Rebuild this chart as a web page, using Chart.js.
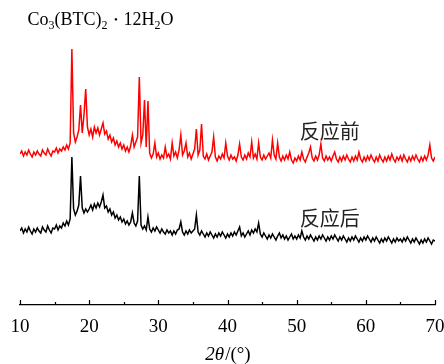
<!DOCTYPE html>
<html>
<head>
<meta charset="utf-8">
<script src="https://cdn.jsdelivr.net/npm/chart.js@4.4.1/dist/chart.umd.min.js"></script>
<style>
  html, body { margin: 0; padding: 0; background: #fff; }
  #wrap { width: 444px; height: 364px; position: relative; }
</style>
</head>
<body>
<div id="wrap"><canvas id="xrdChart"></canvas></div>
<script>
// 2θ sampling of both patterns (degrees)
const angleStart = 10;
const angleStep = 0.25;

// 反应前 (before reaction), intensity in arbitrary units
const beforeValues = [
    151, 154, 149, 153, 150, 155, 151, 148, 153, 150, 154, 151, 149, 155, 152, 150, 156, 152, 149, 154,
    153, 157, 152, 156, 154, 158, 155, 160, 156, 162, 256, 172, 163, 168, 175, 200, 172, 190, 216, 178,
    170, 176, 168, 178, 172, 177, 170, 176, 182, 171, 174, 166, 170, 163, 167, 160, 164, 158, 162, 156,
    160, 154, 158, 153, 159, 170, 158, 163, 168, 228, 162, 170, 205, 158, 204, 152, 147, 151, 162, 148,
    152, 146, 150, 147, 158, 148, 151, 146, 162, 149, 153, 147, 155, 170, 150, 154, 162, 148, 152, 146,
    151, 156, 176, 150, 155, 181, 149, 146, 151, 145, 149, 153, 168, 148, 144, 149, 146, 151, 147, 162,
    149, 145, 150, 146, 148, 144, 150, 161, 148, 145, 150, 146, 152, 148, 163, 147, 151, 146, 162, 148,
    145, 150, 146, 149, 152, 147, 165, 150, 146, 162, 148, 144, 149, 145, 150, 146, 153, 145, 142, 147,
    144, 149, 145, 153, 146, 143, 148, 152, 158, 147, 144, 149, 145, 150, 161, 147, 144, 149, 145, 148,
    144, 149, 153, 146, 143, 148, 144, 149, 145, 150, 146, 143, 148, 144, 149, 145, 153, 146, 143, 148,
    144, 149, 145, 150, 146, 143, 148, 144, 150, 146, 143, 148, 144, 149, 145, 151, 146, 143, 148, 145,
    149, 144, 150, 146, 143, 148, 144, 149, 145, 150, 146, 143, 148, 144, 149, 145, 150, 160, 147, 144, 148
];

// 反应后 (after reaction)
const afterValues = [
    74, 77, 72, 76, 73, 78, 74, 71, 76, 73, 77, 74, 72, 78, 75, 73, 79, 75, 72, 77,
    76, 80, 75, 79, 77, 82, 79, 84, 80, 86, 148, 96, 90, 94, 100, 129, 97, 92, 96, 93,
    96, 100, 95, 101, 97, 102, 98, 103, 110, 97, 99, 93, 96, 90, 93, 87, 90, 85, 88, 83,
    86, 81, 84, 80, 83, 92, 82, 79, 84, 129, 80, 76, 79, 75, 88, 76, 73, 77, 74, 78,
    75, 72, 76, 73, 71, 75, 72, 74, 70, 74, 71, 75, 76, 83, 73, 70, 74, 71, 75, 72,
    74, 76, 90, 73, 70, 74, 71, 68, 72, 69, 73, 70, 67, 71, 68, 72, 69, 73, 70, 67,
    71, 68, 72, 69, 73, 70, 74, 78, 69, 72, 68, 71, 74, 70, 75, 72, 76, 73, 82, 71,
    68, 72, 69, 66, 70, 67, 71, 68, 65, 69, 72, 67, 70, 66, 69, 65, 68, 71, 66, 69,
    66, 70, 67, 74, 68, 65, 69, 66, 70, 67, 64, 68, 65, 69, 66, 70, 67, 64, 68, 65,
    69, 66, 70, 67, 64, 68, 65, 69, 66, 63, 67, 64, 68, 65, 69, 66, 63, 67, 64, 68,
    65, 69, 66, 63, 67, 64, 68, 65, 62, 66, 63, 67, 64, 68, 65, 62, 66, 63, 67, 64,
    66, 63, 67, 64, 68, 65, 62, 66, 63, 67, 64, 61, 65, 62, 66, 63, 67, 64, 61, 65, 64
];

const seriesNames = ['反应前', '反应后'];
const majorTicks = [10, 20, 30, 40, 50, 60, 70];
const minorTicks = [15, 25, 35, 45, 55, 65];

const toPoints = vals => vals.map((v, i) => ({ x: angleStart + i * angleStep, y: v }));

const serif = "'Liberation Serif', 'Times New Roman', serif";

// draws inward ticks, the formula title, series names and the axis title
const overlay = {
    id: 'overlay',
    afterDraw(chart) {
        const ctx = chart.ctx;
        const xs = chart.scales.x;
        const ys = chart.scales.y;
        const base = Math.round(chart.chartArea.bottom);
        ctx.save();

        ctx.strokeStyle = '#000';
        ctx.lineWidth = 1.2;
        ctx.beginPath();
        majorTicks.forEach(v => {
            const p = Math.round(xs.getPixelForValue(v)) + 0.5;
            ctx.moveTo(p, base); ctx.lineTo(p, base - 5);
        });
        minorTicks.forEach(v => {
            const p = Math.round(xs.getPixelForValue(v)) + 0.5;
            ctx.moveTo(p, base); ctx.lineTo(p, base - 3);
        });
        ctx.stroke();

        // Co3(BTC)2 · 12H2O
        ctx.fillStyle = '#000';
        ctx.textBaseline = 'alphabetic';
        ctx.textAlign = 'left';
        const parts = [['Co', 0], ['3', 1], ['(BTC)', 0], ['2', 1], ['dot', 2], ['12H', 0], ['2', 1], ['O', 0]];
        let cx = 27.5;
        const by = 24.5;
        parts.forEach(([t, kind]) => {
            if (kind === 2) {
                ctx.font = '11px ' + serif;
                ctx.textBaseline = 'middle';
                ctx.textAlign = 'center';
                ctx.fillText('\u2022', cx + 8.5, by - 4.5);
                ctx.textBaseline = 'alphabetic';
                ctx.textAlign = 'left';
                cx += 16;
                return;
            }
            ctx.font = (kind ? '12px ' : '18px ') + serif;
            ctx.fillText(t, cx, kind ? by + 4 : by);
            cx += ctx.measureText(t).width;
        });

        // series names
        ctx.font = "20px 'Noto Sans CJK SC', sans-serif";
        ctx.fillStyle = '#222';
        ctx.textAlign = 'center';
        ctx.textBaseline = 'middle';
        ctx.fillText(seriesNames[0], xs.getPixelForValue(54.8), ys.getPixelForValue(174));
        ctx.fillText(seriesNames[1], xs.getPixelForValue(54.8), ys.getPixelForValue(87));

        // 2θ/(°)
        ctx.fillStyle = '#000';
        ctx.textBaseline = 'alphabetic';
        ctx.textAlign = 'left';
        ctx.font = 'italic 19px ' + serif;
        const a = '2\u03b8';
        const wa = ctx.measureText(a).width;
        ctx.font = '19px ' + serif;
        const b = '/(\u00b0)';
        const wb = ctx.measureText(b).width;
        const mid = (chart.chartArea.left + chart.chartArea.right) / 2;
        let tx = mid - (wa + wb) / 2;
        ctx.font = 'italic 19px ' + serif;
        ctx.fillText(a, tx, 360);
        ctx.font = '19px ' + serif;
        ctx.fillText(b, tx + wa + 1, 360);

        ctx.restore();
    }
};

new Chart(document.getElementById('xrdChart').getContext('2d'), {
    type: 'line',
    data: {
        datasets: [{
            label: seriesNames[0],
            data: toPoints(beforeValues),
            borderColor: '#ff0000',
            borderWidth: 1.5,
            pointRadius: 0,
            tension: 0,
            fill: false
        }, {
            label: seriesNames[1],
            data: toPoints(afterValues),
            borderColor: '#000000',
            borderWidth: 1.5,
            pointRadius: 0,
            tension: 0,
            fill: false
        }]
    },
    options: {
        responsive: true,
        maintainAspectRatio: false,
        animation: false,
        devicePixelRatio: 1,
        layout: { padding: { left: 20, right: 9, top: 0, bottom: 0 } },
        plugins: {
            legend: { display: false },
            tooltip: { enabled: false }
        },
        scales: {
            x: {
                type: 'linear',
                min: 10,
                max: 70,
                afterBuildTicks: scale => { scale.ticks = majorTicks.map(v => ({ value: v })); },
                afterFit: scale => {
                    scale.height = 59;
                    scale.paddingLeft = 0;
                    scale.paddingRight = 0;
                },
                grid: { display: false, drawTicks: false },
                border: { display: true, color: '#000', width: 1.2 },
                ticks: {
                    padding: 11,
                    maxRotation: 0,
                    autoSkip: false,
                    color: '#000',
                    font: { family: serif, size: 19 }
                }
            },
            y: {
                display: false,
                min: 0,
                max: 305
            }
        }
    },
    plugins: [overlay]
});
</script>
</body>
</html>
